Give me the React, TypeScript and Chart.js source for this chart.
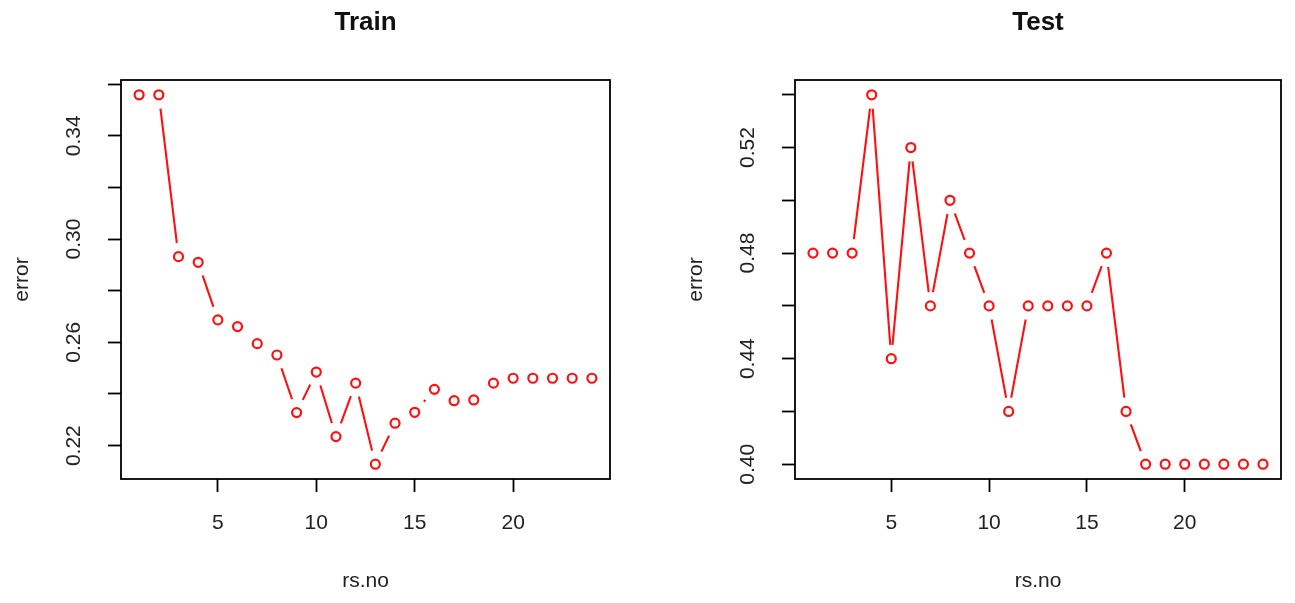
import React, { useEffect, useRef } from "react";
import { Chart, registerables } from "chart.js";

Chart.register(...registerables);

// ---- data ----
const rsNo = [1, 2, 3, 4, 5, 6, 7, 8, 9, 10, 11, 12, 13, 14, 15, 16, 17, 18, 19, 20, 21, 22, 23, 24];
const trainError = [
  0.3559, 0.3559, 0.2932, 0.291, 0.2687, 0.2661, 0.2595, 0.2551, 0.2328, 0.2485, 0.2235, 0.2442,
  0.2128, 0.2287, 0.2329, 0.2418, 0.2374, 0.2377, 0.2442, 0.2461, 0.2461, 0.2461, 0.2461, 0.2461,
];
const testError = [
  0.48, 0.48, 0.48, 0.54, 0.44, 0.52, 0.46, 0.5, 0.48, 0.46, 0.42, 0.46,
  0.46, 0.46, 0.46, 0.48, 0.42, 0.4, 0.4, 0.4, 0.4, 0.4, 0.4, 0.4,
];
const xTicks = [5, 10, 15, 20];
const xTickLabels = ["5", "10", "15", "20"];
const trainYTicks = [0.22, 0.24, 0.26, 0.28, 0.3, 0.32, 0.34, 0.36];
const trainYLabels = ["0.22", "", "0.26", "", "0.30", "", "0.34", ""];
const testYTicks = [0.4, 0.42, 0.44, 0.46, 0.48, 0.5, 0.52, 0.54];
const testYLabels = ["0.40", "", "0.44", "", "0.48", "", "0.52", ""];
const xLabel = "rs.no";
const yLabel = "error";

const FAMILY = "'Liberation Sans', Arial, Helvetica, sans-serif";
const RED = "#ff1010";
const TEXT = "#222";

// R-style axis range: data range extended by 4% on each side
function rRange(arr: number[]): [number, number] {
  const lo = Math.min(...arr);
  const hi = Math.max(...arr);
  const d = (hi - lo) * 0.04;
  return [lo - d, hi + d];
}

const boxPlugin = {
  id: "rbox",
  afterDraw(chart: any) {
    const { ctx, chartArea } = chart;
    ctx.save();
    ctx.strokeStyle = "#000";
    ctx.lineWidth = 1.8;
    ctx.strokeRect(chartArea.left, chartArea.top, chartArea.right - chartArea.left, chartArea.bottom - chartArea.top);
    ctx.restore();
  },
};

type PanelProps = {
  title: string;
  values: number[];
  yTicks: number[];
  yLabels: string[];
  left: number;
  width: number;
  padRight: number;
};

function Panel({ title, values, yTicks, yLabels, left, width, padRight }: PanelProps) {
  const ref = useRef<HTMLCanvasElement | null>(null);
  useEffect(() => {
    if (!ref.current) return;
    const pts = rsNo.map((x, i) => ({ x, y: values[i] }));
    const [yMin, yMax] = rRange(values);
    const [xMin, xMax] = rRange(rsNo);
    const tickFont = { family: FAMILY, size: 21, lineHeight: 1.2 };
    const grid = {
      display: true,
      drawOnChartArea: false,
      drawTicks: true,
      tickLength: 13,
      tickWidth: 1.8,
      tickColor: "#000",
    };
    const chart = new Chart(ref.current, {
      type: "scatter",
      data: {
        datasets: [
          {
            label: "points",
            data: pts,
            order: 0,
            showLine: false,
            pointRadius: 4.5,
            pointHoverRadius: 4.5,
            pointBorderWidth: 2.2,
            pointBorderColor: RED,
            pointBackgroundColor: "rgba(0,0,0,0)",
          },
          {
            label: "gap",
            data: pts,
            order: 1,
            showLine: false,
            pointRadius: 14,
            pointHoverRadius: 14,
            pointBorderWidth: 0,
            pointBorderColor: "#fff",
            pointBackgroundColor: "#fff",
          },
          {
            label: "line",
            data: pts,
            order: 2,
            showLine: true,
            borderColor: RED,
            borderWidth: 2.1,
            pointRadius: 0,
            pointHoverRadius: 0,
            tension: 0,
          },
        ],
      },
      options: {
        responsive: false,
        animation: false,
        events: [],
        layout: { padding: { left: 0, right: padRight, top: 0, bottom: 0 } },
        plugins: {
          legend: { display: false },
          tooltip: { enabled: false },
          title: {
            display: true,
            text: title,
            fullSize: false,
            color: "#111",
            font: { family: FAMILY, size: 26, weight: "bold", lineHeight: 1.2 },
            padding: { top: 7, bottom: 41.8 },
          },
        },
        scales: {
          x: {
            type: "linear",
            min: xMin,
            max: xMax,
            afterBuildTicks: (s: any) => {
              s.ticks = xTicks.map((v) => ({ value: v }));
            },
            afterFit: (s: any) => {
              s.height = 124;
            },
            ticks: {
              font: tickFont,
              color: TEXT,
              padding: 19,
              autoSkip: false,
              maxRotation: 0,
              callback: (_v: any, i: number) => xTickLabels[i],
            },
            grid,
            border: { display: false },
            title: {
              display: true,
              text: xLabel,
              color: TEXT,
              font: tickFont,
              padding: { top: 0, bottom: 9 },
            },
          },
          y: {
            type: "linear",
            min: yMin,
            max: yMax,
            afterBuildTicks: (s: any) => {
              s.ticks = yTicks.map((v) => ({ value: v }));
            },
            afterFit: (s: any) => {
              s.width = 121;
            },
            ticks: {
              font: tickFont,
              color: TEXT,
              padding: 13,
              autoSkip: false,
              minRotation: 90,
              maxRotation: 90,
              crossAlign: "center",
              callback: (_v: any, i: number) => yLabels[i],
            },
            grid,
            border: { display: false },
            title: {
              display: true,
              text: yLabel,
              color: TEXT,
              font: tickFont,
              padding: { top: 10, bottom: 0 },
            },
          },
        },
      } as any,
      plugins: [boxPlugin],
    });
    return () => chart.destroy();
  }, [title, values, yTicks, yLabels, padRight]);

  return (
    <canvas
      ref={ref}
      width={width}
      height={603}
      style={{ position: "absolute", left, top: 0, width, height: 603, display: "block" }}
    />
  );
}

export default function App() {
  return (
    <div style={{ position: "fixed", left: 0, top: 0, width: 1295, height: 603, background: "#fff", overflow: "hidden" }}>
      <Panel title="Train" values={trainError} yTicks={trainYTicks} yLabels={trainYLabels} left={0} width={674} padRight={64} />
      <Panel title="Test" values={testError} yTicks={testYTicks} yLabels={testYLabels} left={674} width={621} padRight={11} />
    </div>
  );
}
